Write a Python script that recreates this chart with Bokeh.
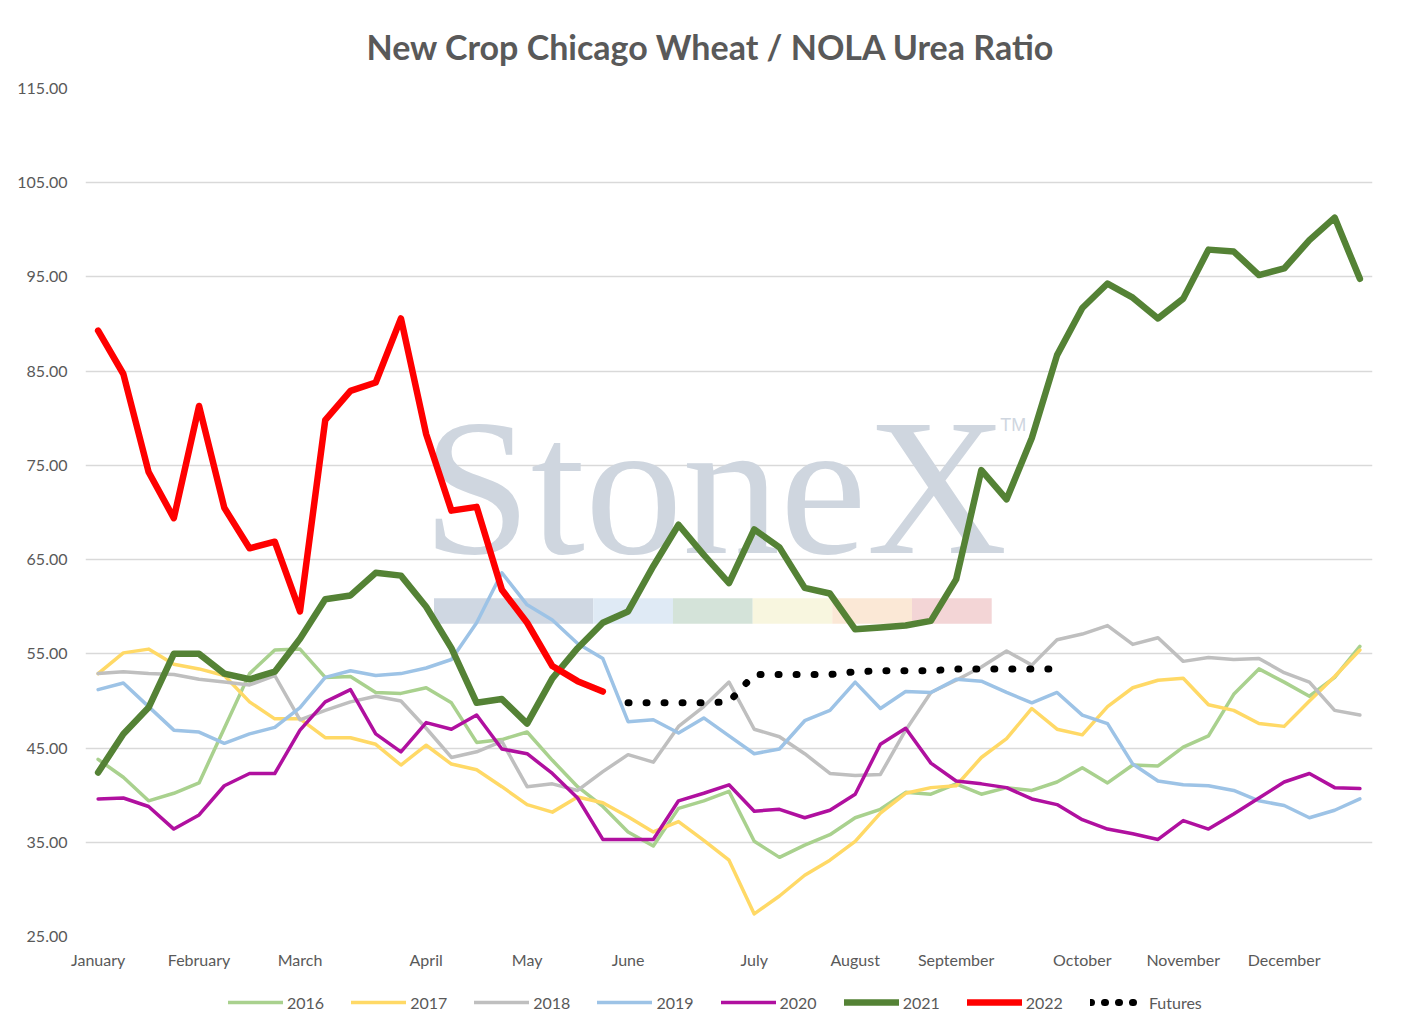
from bokeh.plotting import figure
from bokeh.layouts import column
from bokeh.models import ColumnDataSource, Legend, LegendItem, FixedTicker, Range1d, NumeralTickFormatter
from bokeh.core.properties import value
from bokeh.embed import file_html
from bokeh.resources import INLINE

# weekly points, 51 per year
weeks = list(range(51))
month_idx = [0, 4, 8, 13, 17, 21, 26, 30, 34, 39, 43, 47]
month_names = ["January", "February", "March", "April", "May", "June", "July",
               "August", "September", "October", "November", "December"]

y2016 = [43.8, 41.9, 39.4, 40.2, 41.3, 47.1, 52.9, 55.4, 55.5, 52.5, 52.6, 50.9, 50.8,
         51.4, 49.8, 45.6, 45.9, 46.7, 43.7, 40.9, 38.8, 36.1, 34.6, 38.6, 39.4, 40.4,
         35.1, 33.4, 34.7, 35.8, 37.6, 38.5, 40.3, 40.1, 41.2, 40.1, 40.8, 40.5, 41.4,
         42.9, 41.3, 43.2, 43.1, 45.1, 46.3, 50.7, 53.4, 52.0, 50.5, 52.5, 55.8]
y2017 = [52.9, 55.1, 55.5, 53.9, 53.4, 52.7, 49.9, 48.1, 48.1, 46.1, 46.1, 45.4, 43.2,
         45.3, 43.3, 42.7, 40.9, 39.0, 38.2, 39.8, 39.2, 37.7, 36.1, 37.2, 35.2, 33.1,
         27.4, 29.3, 31.5, 33.1, 35.1, 38.1, 40.2, 40.8, 41.0, 44.0, 46.0, 49.2, 47.0,
         46.4, 49.4, 51.4, 52.2, 52.4, 49.6, 49.0, 47.6, 47.3, 50.0, 52.6, 55.4]
y2018 = [52.9, 53.1, 52.9, 52.8, 52.3, 52.0, 51.7, 52.7, 48.0, 49.0, 49.9, 50.5, 50.0,
         47.1, 44.0, 44.6, 45.7, 40.9, 41.2, 40.5, 42.5, 44.3, 43.5, 47.3, 49.4, 52.0,
         47.0, 46.2, 44.4, 42.3, 42.1, 42.2, 46.9, 50.9, 52.2, 53.6, 55.3, 53.8, 56.5,
         57.1, 58.0, 56.0, 56.7, 54.2, 54.6, 54.4, 54.5, 53.0, 52.0, 49.0, 48.5]
y2019 = [51.2, 51.9, 49.4, 46.9, 46.7, 45.5, 46.5, 47.2, 49.3, 52.5, 53.2, 52.7, 52.9,
         53.5, 54.4, 58.3, 63.6, 60.2, 58.6, 56.1, 54.5, 47.8, 48.0, 46.6, 48.2, 46.3,
         44.4, 44.9, 47.9, 49.0, 52.0, 49.2, 51.0, 50.9, 52.3, 52.1, 50.9, 49.8, 50.9,
         48.5, 47.6, 43.3, 41.5, 41.1, 41.0, 40.5, 39.4, 38.9, 37.6, 38.4, 39.6]
y2020 = [39.6, 39.7, 38.8, 36.4, 37.9, 41.0, 42.3, 42.3, 46.9, 49.9, 51.2, 46.5, 44.6,
         47.7, 47.0, 48.5, 44.9, 44.4, 42.3, 39.7, 35.3, 35.3, 35.3, 39.4, 40.2, 41.1,
         38.3, 38.5, 37.6, 38.4, 40.1, 45.4, 47.1, 43.4, 41.5, 41.2, 40.8, 39.6, 39.0,
         37.4, 36.4, 35.9, 35.3, 37.3, 36.4, 38.0, 39.7, 41.4, 42.3, 40.8, 40.7]
y2021 = [42.4, 46.5, 49.3, 55.0, 55.0, 52.9, 52.3, 53.1, 56.6, 60.8, 61.2, 63.6, 63.3,
         60.0, 55.6, 49.8, 50.2, 47.6, 52.4, 55.6, 58.3, 59.5, 64.3, 68.7, 65.5, 62.5,
         68.2, 66.3, 62.0, 61.4, 57.6, 57.8, 58.0, 58.5, 62.9, 74.5, 71.4, 77.9, 86.7,
         91.7, 94.3, 92.8, 90.6, 92.7, 97.9, 97.7, 95.2, 95.9, 98.9, 101.3, 94.8]
# 2022 runs for the first 21 weeks
y2022 = [89.3, 84.7, 74.3, 69.4, 81.3, 70.5, 66.2, 66.9, 59.5, 79.8, 82.9, 83.8, 90.6,
         78.3, 70.2, 70.6, 61.8, 58.3, 53.7, 52.1, 51.0]
# futures from week 21 to week 38
fut_start = 21
futures = [49.8, 49.8, 49.8, 49.8, 49.9, 52.8, 52.8, 52.8, 52.8, 53.1, 53.2, 53.2, 53.2,
           53.4, 53.4, 53.4, 53.4, 53.4]

series = [("2016", y2016, "#a9d18e", 3.5),
          ("2017", y2017, "#ffd966", 3.5),
          ("2018", y2018, "#bfbfbf", 3.5),
          ("2019", y2019, "#9dc3e6", 3.5),
          ("2020", y2020, "#b0109f", 3.5),
          ("2021", y2021, "#548235", 6.5),
          ("2022", y2022, "#ff0000", 6.5)]

FONT = "Lato"
GREY = "#595959"

p = figure(width=1405, height=976, output_backend="svg", toolbar_location=None,
           x_range=Range1d(-0.5, 50.5), y_range=Range1d(25, 115),
           min_border_left=85, min_border_right=33, min_border_top=88, min_border_bottom=40)
p.title.text = "New Crop Chicago Wheat / NOLA Urea Ratio"
p.title.align = "left"
p.title.offset = 281
p.title.standoff = 44
p.title.text_font = FONT
p.title.text_font_style = "bold"
p.title.text_font_size = "34px"
p.title.text_color = GREY
p.outline_line_color = None

p.xgrid.grid_line_color = None
p.ygrid.grid_line_color = "#d9d9d9"
p.ygrid.grid_line_width = 1.3

p.yaxis.ticker = FixedTicker(ticks=list(range(25, 116, 10)))
p.yaxis.formatter = NumeralTickFormatter(format="0.00")
p.xaxis.ticker = FixedTicker(ticks=month_idx)
p.xaxis.major_label_overrides = {i: m for i, m in zip(month_idx, month_names)}
for ax in (p.xaxis, p.yaxis):
    ax.axis_line_color = None
    ax.major_tick_line_color = None
    ax.minor_tick_line_color = None
    ax.major_label_text_font = FONT
    ax.major_label_text_font_size = "16px"
    ax.major_label_text_color = GREY
p.yaxis.major_label_standoff = 12
p.xaxis.major_label_standoff = 7

# StoneX watermark behind the lines
band_colors = ["#cfd7e2", "#dfeaf5", "#d4e3d9", "#f8f6df", "#fbe8d6", "#f3d5d6"]
band_left = [13.31, 19.62, 22.78, 25.94, 29.09, 32.25]
band_right = [19.62, 22.78, 25.94, 29.09, 32.25, 35.41]
p.quad(left=band_left, right=band_right, top=60.9, bottom=58.2,
       fill_color=band_colors, line_color=None)
p.text(x=[12.85], y=[61.2], text=["StoneX"], text_font=value("Liberation Serif"),
       text_font_size="195px", text_color="#cfd6df")
p.text(x=[35.75], y=[78.2], text=["TM"], text_font=value("Liberation Sans"),
       text_font_size="18px", text_color="#cfd6df")

sources = []
for name, ys, color, lw in series:
    src = ColumnDataSource(dict(x=weeks[:len(ys)], y=ys))
    p.line("x", "y", source=src, line_color=color, line_width=lw,
           line_join="round", line_cap="round")
    sources.append(src)

fsrc = ColumnDataSource(dict(x=weeks[fut_start:fut_start + len(futures)], y=futures))
p.line("x", "y", source=fsrc, line_color="black", line_width=7,
       line_dash="1 17", line_cap="round")

# legend strip under the chart: a small figure whose view shows none of the data,
# its renderers only feed the key
leg = figure(width=1405, height=41, output_backend="svg", toolbar_location=None,
             x_range=Range1d(0, 1), y_range=Range1d(0, 1),
             min_border_left=0, min_border_right=0, min_border_top=0, min_border_bottom=0)
leg.axis.visible = False
leg.grid.visible = False
leg.outline_line_color = None

items = []
for (name, ys, color, lw), src in zip(series, sources):
    r = leg.line("x", "y", source=src, line_color=color, line_width=lw, line_cap="round")
    items.append(LegendItem(label=name, renderers=[r]))
# tighter dots so four whole dots fit in the key swatch
rk = leg.line("x", "y", source=fsrc, line_color="black", line_width=7,
              line_dash="1 13", line_cap="round")
items.append(LegendItem(label="Futures", renderers=[rk]))

legend = Legend(items=items, orientation="horizontal", location=(143, 5),
                glyph_width=55, glyph_height=20, label_standoff=4, spacing=27,
                padding=0, margin=0, border_line_color=None, background_fill_alpha=0,
                label_text_font=FONT, label_text_font_size="16px", label_text_color=GREY)
leg.add_layout(legend)

layout = column(p, leg, spacing=0)
open("out.html", "w").write(file_html(layout, INLINE))
